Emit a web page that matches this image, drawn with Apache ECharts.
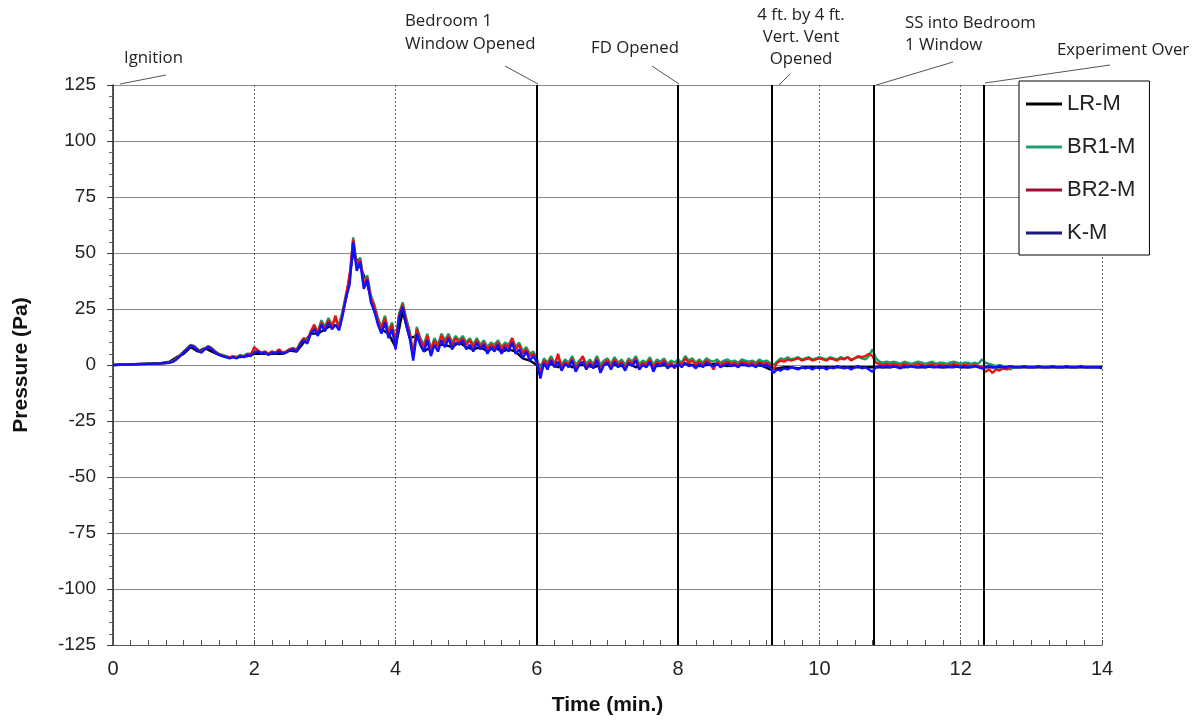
<!DOCTYPE html>
<html>
<head>
<meta charset="utf-8">
<script src="https://cdn.jsdelivr.net/npm/echarts@6/dist/echarts.min.js"></script>
<style>
html, body { margin: 0; padding: 0; background: #fff; }
#main { width: 1202px; height: 721px; }
</style>
</head>
<body>
<div id="main"></div>
<script>
// sample spacing (minutes) of the traces
var fineStep = 0.05;
var coarseStep = 0.1;

// LR-M, one value every 0.1 min (one row per minute)
var lrM = [
  0, 0.2, 0.3, 0.4, 0.5, 0.6, 0.7, 0.9, 1.5, 3.5,
  5, 8, 6, 7.5, 6, 4.5, 3.5, 3.5, 3.5, 4,
  5, 5, 5, 5, 5, 6.5, 6, 10, 14, 14,
  16, 18, 17, 30, 50, 44, 36, 24, 16, 14,
  8, 24, 12, 13, 6, 8, 9, 9, 8, 10,
  8, 7, 8, 6, 8, 6, 7, 6, 3, 2,
  0, 0, 0.5, -1, 1, -1, 0, 0, -1, 0,
  0.5, 0, -0.5, 0.5, -1, 0, 1, -0.5, 0, -0.5,
  0, 0.5, 0, -0.5, 0, 0.5, 0, -0.5, 0, 0,
  0, 0, -0.5, -2, -1.5, -1, -1, -1.5, -1, -1,
  -1, -1, -1, -1, -1, -1, -1, -1, -1, -1,
  -1, -0.5, -1, -0.5, -1, -1, -0.5, -1, -1, -0.5,
  -1, -1, -0.5, -1, -1, -1, -1, -1, -1, -1,
  -1, -1, -1, -1, -1, -1, -1, -1, -1, -1,
  -1
];

// BR1-M, one value every 0.05 min, ends at 12.75 min
var br1M = [
  0, 0.1, 0.2, 0.3, 0.3, 0.4, 0.4, 0.5, 0.5, 0.6, 0.6, 0.7, 0.7, 0.8, 0.9, 1.0, 1.2, 1.8, 3, 4.5,
  6, 7.5, 9, 8.5, 7, 6, 7.5, 8.5, 7.5, 6, 5, 4.5, 4, 3.5, 4, 3.5, 4.5, 4, 5, 5,
  6, 6.5, 5.5, 6, 5, 6, 5.5, 6.5, 5.5, 6, 7, 7.5, 7, 10, 12, 11, 15, 17, 15, 20,
  17, 21, 18, 20, 18, 24, 32, 38, 57, 45, 48, 37, 40, 31, 27, 21, 17, 22, 15, 19,
  10, 23, 28, 21, 15, 5, 17, 12, 9, 14, 7, 12, 9, 14, 11, 14, 10, 13, 11, 13,
  10, 12, 9, 12, 9, 11, 8, 10, 9, 11, 8, 10, 9, 12, 8, 10, 6, 8, 5, 6,
  3, -2, 3, 1, 4, 1, 3.5, 0, 2.5, 1, 4, 0, 2, 3.5, 0.5, 2.5, 0.5, 4, 0, 2,
  3, 0.5, 3.5, 1, 2.5, 0, 3, 1.5, 4, 0.5, 2, 1, 3.5, 0, 2.5, 1.5, 3, 0.5, 2, 1,
  2.5, 1, 4, 2, 3, 1, 2.5, 1, 3, 2, 1.5, 2.5, 1, 2, 2.5, 1.5, 2, 1, 2.5, 2,
  1.5, 2, 1, 2.5, 1.5, 2, 1, 0, 1.5, 3, 2.5, 3.5, 2.5, 3, 3.5, 2.5, 3, 3.5, 2.5, 3,
  3.5, 3, 2.5, 3.5, 3, 2.5, 3.5, 3, 3.5, 2.5, 3, 3.5, 3, 2.5, 4, 7, 3, 1.5, 1, 1.5,
  1, 1.5, 1, 0.5, 1.5, 1, 0.5, 1, 1.5, 1, 0.5, 1, 1.5, 0.5, 1, 1, 0.5, 1, 1.5, 1,
  0.5, 1, 1, 0.5, 1, 0.5, 2.5, 1, 0.5, 0, -0.5, 0, -0.5, -1, -2, -1
];

// BR2-M, one value every 0.05 min, ends at 12.75 min
var br2M = [
  0, 0, 0.1, 0.2, 0.2, 0.3, 0.3, 0.4, 0.4, 0.5, 0.5, 0.6, 0.6, 0.7, 0.8, 0.9, 1.1, 1.6, 2.8, 4.2,
  5.8, 7.2, 8.8, 8.2, 6.8, 5.8, 7.2, 8.2, 7.2, 5.8, 4.8, 4.2, 3.8, 3.2, 3.8, 3.2, 4.2, 3.8, 4.8, 4.5,
  8, 6.5, 5.5, 6, 5, 6, 5.5, 7, 5.5, 6, 7, 7.5, 6.5, 9.5, 12, 10, 15, 18, 14, 19,
  16, 20, 17, 22, 16, 23, 31, 40, 56, 44, 47, 36, 39, 30, 26, 20, 16, 21, 14, 18,
  9, 22, 27, 20, 14, 4, 16, 11, 8, 13, 6, 11, 8, 13, 10, 13, 9, 12, 10, 12,
  9, 11, 8, 11, 8, 10, 7, 9, 8, 10, 7, 9, 8, 12, 7, 9, 5, 7, 4, 5,
  2, -4, 2, 0, 3, 0, 5, -1, 1.5, 0, 3, -2, 1, 4, -1, 1.5, -0.5, 3, -2, 1,
  2, -1, 2.5, 0, 1.5, -1.5, 2, 0.5, 3, -1, 1, 0, 2.5, -1.5, 1.5, 0.5, 2, -0.5, 1, -1.5,
  1.5, 0, 3, 1, 2, 0, 1.5, 0, 2, 1, -2, 1.5, 0, 1, 1.5, 0.5, 1, 0, 1.5, 1,
  0.5, 1, 0, 1.5, 0.5, 1, 0, -2, 1, 2, 1.5, 2.5, 2, 2.5, 3, 2, 2.5, 3, 2, 2.5,
  3, 2.5, 2, 3, 2.5, 2, 3, 2.5, 3.5, 2, 3, 4, 3.5, 4, 5, 4, 1, 0.5, 0, 0.5,
  0, 0.5, 0, -0.5, 0.5, 0, -0.5, 0, 0.5, 0, -0.5, 0, 0.5, -0.5, 0, 0, -0.5, 0, 0.5, 0,
  -0.5, 0, 0, -0.5, 0, -0.5, -1, -3, -2, -3.5, -2, -2.5, -1.5, -2, -1, -0.5
];

// K-M, one value every 0.05 min
var kM = [
  0, 0, 0.2, 0.1, 0.3, 0.2, 0.4, 0.3, 0.5, 0.4, 0.6, 0.5, 0.7, 0.6, 0.8, 0.9, 1.0, 1.5, 2.5, 4,
  5.5, 7, 8.5, 8, 6.5, 5.5, 7, 8, 7, 5.5, 4.5, 4, 3.5, 3, 3.5, 3, 4, 3.5, 4.5, 4,
  5.5, 6, 5, 5.5, 4.5, 5.5, 5, 6, 5, 5.5, 6.5, 7, 6, 9, 11, 9.5, 14, 16, 13, 18,
  15, 19, 16, 18, 15.5, 22, 30, 36, 55, 42, 46, 34, 38, 28, 24, 18, 14, 19, 12, 16,
  7, 21, 26, 18, 12, 2, 14, 9, 6, 11, 4, 9, 6, 11, 8, 12, 7, 10, 9, 11,
  7, 9, 6, 10, 7, 9, 5, 8, 6, 9, 5, 8, 6, 10, 5, 7, 3, 6, 2, 4,
  1, -6, 1, -2, 2, -1, 1.5, -2.5, 0.5, -1, 2, -3, 0, 1.5, -2, 0.5, -1.5, 2, -3.5, 0,
  1, -2, 1.5, -1, 0.5, -2.5, 1, -0.5, 2, -2, 0, -1, 1.5, -3, 0.5, -0.5, 1, -1.5, 0, -1,
  0.5, -1, 1, -0.5, 0, -1.5, 0.5, -1, 1, 0, -0.5, 0.5, -1, 0, 0.5, -0.5, 0, -1, 0.5, 0,
  -0.5, 0, -1, 0.5, -0.5, 0, -1, -3.5, -2, -2.5, -1.5, -2, -1, -1.5, -2, -1, -1.5, -1, -2, -1,
  -1.5, -1, -2, -1, -1.5, -0.5, -1, -1.5, -1, -2, -1, -0.5, -1.5, -1, -2, -3, -1, -0.5, -1, -0.5,
  -1, -0.5, -1, -1.5, -0.5, -1, -0.5, -1, -1, -0.5, -1, -0.5, -1, -1, -0.5, -1, -0.5, -1, -1, -0.5,
  -1, -0.5, -1, -1, -0.5, -1, -1.5, -1, -0.5, -1, -1, -0.5, -1, -1, -0.5, -1, -1, -1, -0.5, -1,
  -1, -1, -0.5, -1, -1, -1, -0.5, -1, -1, -1, -0.5, -1, -1, -1, -0.5, -1, -1, -1, -1, -1,
  -1.5
];

var seriesNames = ['LR-M', 'BR1-M', 'BR2-M', 'K-M'];
var lineColors = ['#000000', '#14a064', '#ee1111', '#1010ff'];
var legendColors = ['#000000', '#1fa070', '#a01030', '#1a1a7a'];

// events along the test (minutes)
var eventTimes = [6, 8, 9.33, 10.77, 12.33];
var yTicks = { min: -125, max: 125, step: 25 };

function pairs(vals, step) {
  return vals.map(function (v, i) { return [Math.round(i * step * 100) / 100, v]; });
}

var traces = [pairs(lrM, coarseStep), pairs(br1M, fineStep), pairs(br2M, fineStep), pairs(kM, fineStep)];

var myChart = echarts.init(document.getElementById('main'));

var annoFont = '16.8px "Open Sans", sans-serif';
function note(text, x, y, lh) {
  return {
    type: 'text', left: x, top: y, silent: true,
    style: { text: text, font: annoFont, fill: '#222', lineHeight: lh || 22 }
  };
}
// centred note, anchored on its middle
function noteC(text, cx, y, lh) {
  return {
    type: 'text', x: cx, y: y, silent: true,
    style: { text: text, font: annoFont, fill: '#222', lineHeight: lh || 22, align: 'center', verticalAlign: 'top' }
  };
}
function leader(x1, y1, x2, y2) {
  return {
    type: 'line', silent: true,
    shape: { x1: x1, y1: y1, x2: x2, y2: y2 },
    style: { stroke: '#555', lineWidth: 1 }
  };
}

var series = seriesNames.map(function (name, k) {
  return {
    name: name,
    type: 'line',
    data: traces[k],
    showSymbol: false,
    symbol: 'none',
    lineStyle: { color: lineColors[k], width: 2.4 },
    itemStyle: { color: lineColors[k] },
    z: 2 + k
  };
});

series[3].markLine = {
  silent: true,
  symbol: 'none',
  label: { show: false },
  lineStyle: { color: '#000', width: 2, type: 'solid' },
  data: eventTimes.map(function (t) { return { xAxis: t }; })
};

var option = {
  animation: false,
  backgroundColor: '#fff',
  grid: { left: 113, right: 100, top: 85, bottom: 76 },
  legend: {
    orient: 'vertical',
    left: 1019,
    top: 81,
    padding: [12, 14, 11, 7],
    itemGap: 21,
    itemWidth: 36,
    itemHeight: 3,
    icon: 'rect',
    borderColor: '#000',
    borderWidth: 1,
    backgroundColor: '#fff',
    textStyle: { fontFamily: 'Liberation Sans, Arial, sans-serif', fontSize: 22, color: '#222', lineHeight: 21, height: 21 },
    data: seriesNames.map(function (n, k) {
      return { name: n, itemStyle: { color: legendColors[k] } };
    })
  },
  xAxis: {
    type: 'value',
    min: 0,
    max: 14,
    interval: 2,
    name: 'Time (min.)',
    nameLocation: 'middle',
    nameGap: 50,
    nameTextStyle: { fontFamily: 'Liberation Sans Narrow, Liberation Sans, Arial', fontSize: 21, fontWeight: 'bold', color: '#111' },
    axisLine: { onZero: false, lineStyle: { color: '#555', width: 1 } },
    axisTick: { inside: true, length: 5, lineStyle: { color: '#555' } },
    minorTick: { show: true, splitNumber: 8, length: 5, lineStyle: { color: '#555' } },
    axisLabel: { fontFamily: 'Liberation Sans Narrow, Liberation Sans, Arial', fontSize: 20, color: '#222', margin: 14 },
    splitLine: { show: true, lineStyle: { color: '#666', type: [2, 2], width: 1 } }
  },
  yAxis: {
    type: 'value',
    min: yTicks.min,
    max: yTicks.max,
    interval: yTicks.step,
    name: 'Pressure (Pa)',
    nameLocation: 'middle',
    nameRotate: 90,
    nameGap: 81,
    nameTextStyle: { fontFamily: 'Liberation Sans, Arial', fontSize: 21, fontWeight: 'bold', color: '#111' },
    axisLine: { show: true, onZero: false, lineStyle: { color: '#222', width: 1.5 } },
    axisTick: { show: true, length: 6, lineStyle: { color: '#444' } },
    minorTick: { show: true, splitNumber: 5, length: 4, lineStyle: { color: '#666' } },
    axisLabel: { fontFamily: 'Liberation Sans Narrow, Liberation Sans, Arial', fontSize: 19, color: '#222', margin: 17 },
    splitLine: { show: true, lineStyle: { color: '#8a8a8a', width: 1.2 } }
  },
  series: series,
  graphic: [
    note('Ignition', 124, 47),
    leader(120, 84, 166, 75),
    note('Bedroom 1\nWindow Opened', 405, 10, 23),
    leader(505, 66, 538, 84),
    note('FD Opened', 591, 37),
    leader(652, 66, 679, 84),
    noteC('4 ft. by 4 ft.\nVert. Vent\nOpened', 801, 4, 22),
    leader(790, 74, 778, 86),
    note('SS into Bedroom\n1 Window', 905, 12),
    leader(953, 62, 873, 86),
    note('Experiment Over', 1057, 39),
    leader(1110, 65, 985, 83)
  ]
};

myChart.setOption(option);
</script>
</body>
</html>
